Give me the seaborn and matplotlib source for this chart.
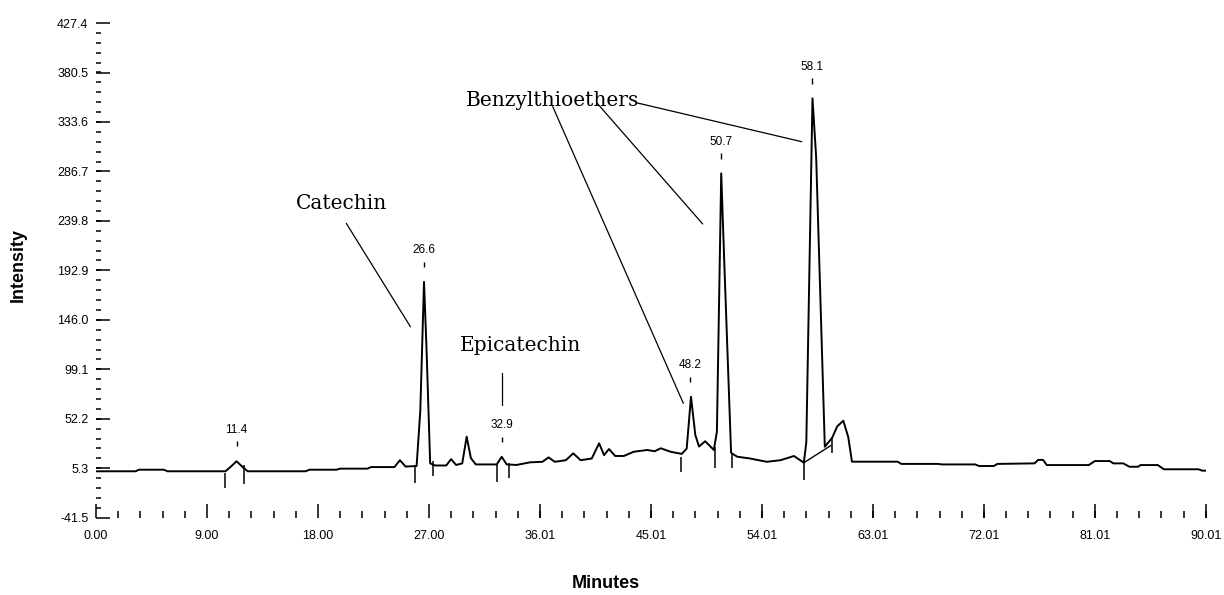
import numpy as np
import pandas as pd
import matplotlib
matplotlib.use("Agg")
import matplotlib.pyplot as plt
from matplotlib.ticker import FixedLocator, MultipleLocator
import seaborn as sns

# ---------------- data ----------------
time_min = [0.0, 3.2, 3.5, 5.5, 5.8, 10.5, 10.9, 11.4, 11.9, 12.3, 17.0, 17.3, 19.5, 19.8,
            22.0, 22.3, 24.2, 24.65, 25.1, 26.0, 26.3, 26.6, 26.8, 27.1, 27.5, 28.4, 28.8,
            29.2, 29.7, 30.06, 30.4, 30.8, 32.5, 32.9, 33.3, 34.1, 35.2, 36.2, 36.7, 37.2,
            38.1, 38.7, 39.3, 40.2, 40.8, 41.2, 41.6, 42.1, 42.8, 43.6, 44.7, 45.3, 45.8,
            46.6, 47.5, 47.9, 48.25, 48.6, 48.9, 49.4, 50.1, 50.35, 50.7, 50.95, 51.5,
            52.0, 53.0, 54.4, 55.5, 56.6, 57.4, 57.6, 58.1, 58.4, 59.1, 59.7, 60.1, 60.6,
            61.0, 61.3, 65.0, 65.3, 68.3, 68.6, 71.3, 71.6, 72.8, 73.1, 76.1, 76.4, 76.8,
            77.1, 80.5, 81.0, 82.2, 82.5, 83.3, 83.8, 84.5, 84.7, 86.1, 86.6, 89.4, 89.7, 90.1]
intensity = [2.5, 2.5, 4.0, 4.0, 2.5, 2.5, 6.5, 12.0, 6.5, 2.5, 2.5, 4.0, 4.0, 5.0,
             5.0, 6.5, 6.5, 13.0, 7.0, 7.5, 60.0, 182.0, 120.0, 10.0, 8.0, 8.0, 14.0,
             8.5, 10.0, 35.3, 15.0, 9.0, 9.0, 16.3, 9.0, 8.5, 11.0, 11.5, 15.7, 11.5,
             13.0, 19.5, 13.0, 14.6, 29.0, 17.8, 23.6, 17.0, 17.0, 21.0, 22.7, 21.5, 24.3,
             21.0, 19.0, 24.0, 73.2, 36.9, 26.0, 31.0, 22.7, 40.0, 284.9, 200.0, 20.0,
             16.3, 14.7, 11.5, 13.0, 17.0, 10.6, 30.0, 356.0, 300.0, 25.8, 34.3, 45.0, 50.4,
             35.0, 11.6, 11.6, 9.5, 9.5, 9.0, 9.0, 7.5, 7.5, 9.5, 10.0, 13.3, 13.3,
             8.4, 8.4, 12.2, 12.2, 10.0, 10.0, 6.8, 6.8, 8.4, 8.4, 4.4, 4.4, 3.1, 3.1]

# labelled peaks
peak_times = [11.4, 26.6, 32.9, 48.2, 50.7, 58.1]
peak_heights = [12.0, 182.0, 16.3, 73.2, 284.9, 356.0]

# integration marks (time, top, bottom)
mark_times = [10.5, 12.0, 25.9, 27.3, 32.5, 33.5, 47.4, 50.2, 51.6, 57.4, 59.7]
mark_tops = [0.9, 8.5, 8.5, 11.8, 8.5, 10.0, 16.4, 25.8, 19.6, 13.2, 35.3]
mark_bottoms = [-13.4, -9.3, -8.5, -1.9, -8.0, -3.5, 2.1, 5.3, 5.3, -5.7, 19.6]

# integration baseline drawn under the 58.1 peak
drop_times = [57.4, 59.6]
drop_values = [10.6, 27.0]

# axis ticks
y_ticks = [-41.5, 5.3, 52.2, 99.1, 146.0, 192.9, 239.8, 286.7, 333.6, 380.5, 427.4]
x_ticks = [0.00, 9.00, 18.00, 27.00, 36.01, 45.01, 54.01, 63.01, 72.01, 81.01, 90.01]
x_tick_labels = ["0.00", "9.00", "18.00", "27.00", "36.01", "45.01", "54.01",
                 "63.01", "72.01", "81.01", "90.01"]

df = pd.DataFrame({"Minutes": time_min, "Intensity": intensity})

# ---------------- plot ----------------
sns.set_theme(style="white")
plt.rcParams["font.family"] = ["Liberation Sans", "DejaVu Sans"]

fig = plt.figure(figsize=(12.24, 5.95), dpi=100)
ax = fig.add_axes([0.0784, 0.1299, 0.9069, 0.8314])

sns.lineplot(data=df, x="Minutes", y="Intensity", ax=ax, color="black",
             linewidth=1.4, estimator=None, sort=False)

ax.vlines(mark_times, mark_bottoms, mark_tops, color="black", linewidth=1.1)
ax.plot(drop_times, drop_values, color="black", linewidth=1.0)

# peak labels
for t, h in zip(peak_times, peak_heights):
    ax.vlines(t, h + 14, h + 19, color="black", linewidth=1.0)
    ax.text(t, h + 30, f"{t:.1f}", ha="center", va="center", fontsize=8.5,
            color="black")

# compound annotations
serif = "DejaVu Serif"
ax.text(19.9, 256.5, "Catechin", family=serif, fontsize=14.5, ha="center",
        va="center", color="black")
ax.plot([20.3, 25.5], [237.5, 139.5], color="black", linewidth=0.9)

ax.text(34.4, 122.0, "Epicatechin", family=serif, fontsize=14.5, ha="center",
        va="center", color="black")
ax.plot([32.95, 32.95], [95.6, 65.3], color="black", linewidth=0.9)

ax.text(37.0, 354.4, "Benzylthioethers", family=serif, fontsize=14.5, ha="center",
        va="center", color="black")
ax.plot([37.04, 47.63], [348.1, 66.9], color="black", linewidth=0.9)
ax.plot([40.6, 49.2], [351.9, 236.9], color="black", linewidth=0.9)
ax.plot([43.8, 57.23], [351.9, 314.9], color="black", linewidth=0.9)

# axes
ax.set_xlim(0, 90.01)
ax.set_ylim(-41.5, 427.4)
sns.despine(ax=ax, left=True, bottom=True, top=True, right=True)

ax.yaxis.set_major_locator(FixedLocator(y_ticks))
ax.set_yticklabels([f"{v:.1f}" for v in y_ticks])
ax.yaxis.set_minor_locator(FixedLocator(np.arange(-41.5, 427.5, 9.378)))
ax.xaxis.set_major_locator(FixedLocator(x_ticks))
ax.set_xticklabels(x_tick_labels)
ax.xaxis.set_minor_locator(MultipleLocator(1.8))

ax.tick_params(axis="y", which="major", direction="in", length=10, width=1.1,
               pad=5.5, labelsize=9, left=True, colors="black")
ax.tick_params(axis="y", which="minor", direction="in", length=3.6, width=1.1,
               left=True, colors="black")
ax.tick_params(axis="x", which="major", direction="in", length=10, width=1.1,
               pad=8.5, labelsize=9, bottom=True, colors="black")
ax.tick_params(axis="x", which="minor", direction="in", length=5, width=1.1,
               bottom=True, colors="black")

ax.set_xlabel("Minutes", fontsize=13, fontweight="bold", va="top", color="black")
ax.set_ylabel("Intensity", fontsize=13, fontweight="bold", color="black")
ax.xaxis.set_label_coords(0.459, -0.116)
ax.yaxis.set_label_coords(-0.062, 0.511)
ax.grid(False)

fig.savefig("out.png", dpi=100)
